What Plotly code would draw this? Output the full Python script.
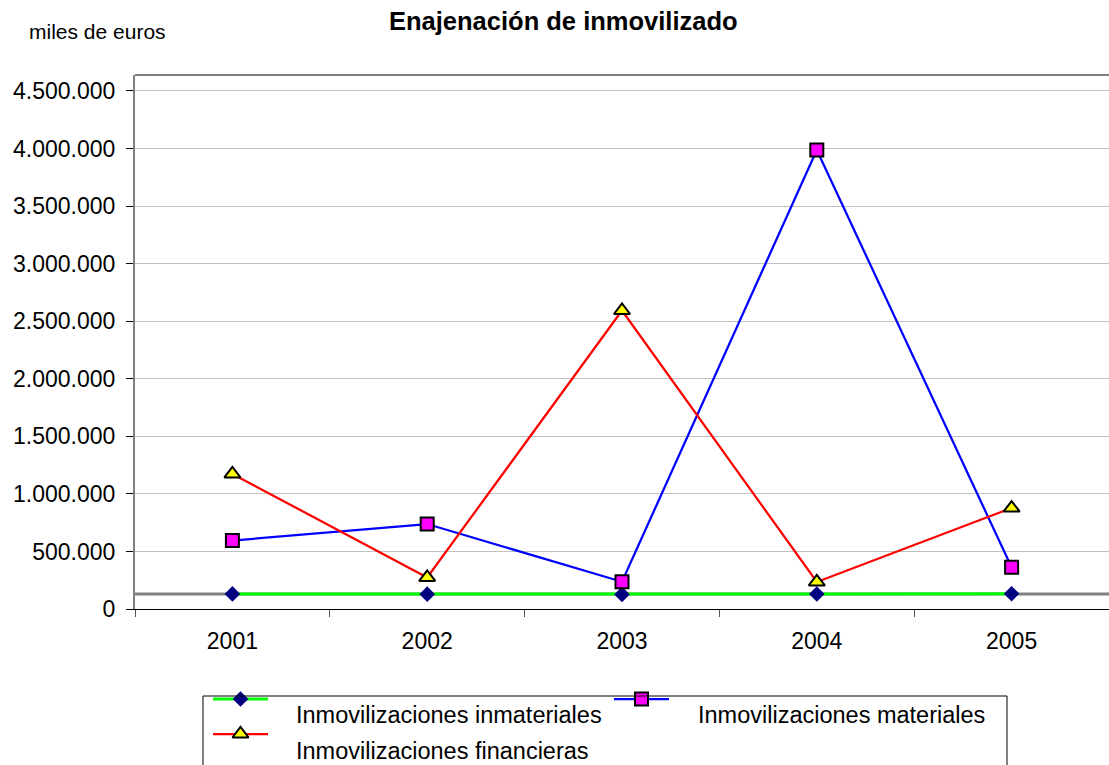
import plotly.graph_objects as go

# ---- data -------------------------------------------------------------
years = ["2001", "2002", "2003", "2004", "2005"]
inmateriales = [131000, 129000, 127000, 130000, 133000]
materiales = [595000, 738000, 237000, 3987000, 362000]
financieras = [1173000, 274000, 2593000, 235000, 877000]
series_names = [
    "Inmovilizaciones inmateriales",
    "Inmovilizaciones materiales",
    "Inmovilizaciones financieras",
]
y_ticks = [0, 500000, 1000000, 1500000, 2000000, 2500000, 3000000, 3500000, 4000000, 4500000]
title_text = "Enajenación de inmovilizado"
unit_text = "miles de euros"

# ---- page geometry (pixels) ------------------------------------------
W, H = 1109, 765
LEFT, TOP = 135, 75
PLOT_BOTTOM = 609            # pixel row of the value axis zero
PAPER_H = H - TOP
Y_TOP_VALUE = 4638800        # value reached at the top edge of the plot frame
FONT = "Liberation Sans, Arial, sans-serif"
TICK_SIZE = 23
LEGEND_SIZE = 23.5


def px_x(px):
    return (px - LEFT) / (W - LEFT)


def px_y(py):
    return (H - py) / PAPER_H


styles = [
    dict(line=dict(color="#00FF00", width=3),
         marker=dict(symbol="diamond", size=12, color="#000080", line=dict(width=0))),
    dict(line=dict(color="#0000FF", width=2.25),
         marker=dict(symbol="square", size=13, color="#FF00FF", line=dict(color="black", width=2))),
    dict(line=dict(color="#FF0000", width=2.25),
         marker=dict(symbol="triangle-up", size=14, color="#FFFF00", line=dict(color="black", width=2))),
]

fig = go.Figure()

for name, values, st in zip(series_names, [inmateriales, materiales, financieras], styles):
    fig.add_trace(go.Scatter(
        x=years, y=values, name=name, mode="lines+markers",
        line=st["line"], marker=st["marker"], showlegend=False,
        cliponaxis=False, xaxis="x", yaxis="y",
    ))

annotations = [
    dict(text=f"<b>{title_text}</b>", x=px_x(563.5), y=px_y(21), xref="paper", yref="paper",
         xanchor="center", yanchor="middle", showarrow=False,
         font=dict(family=FONT, size=25.5, color="black")),
    dict(text=unit_text, x=px_x(27), y=px_y(31), xref="paper", yref="paper",
         xanchor="left", yanchor="middle", showarrow=False,
         font=dict(family=FONT, size=21, color="black")),
]

# ---- hand-drawn legend on a pixel-scaled overlay axis ---------------
legend_slots = [(213, 699, 294, 715), (614, 699, 696, 715), (213, 734, 294, 751)]
SWATCH_W = 55
for (sx, sy, tx, ty), name, st in zip(legend_slots, series_names, styles):
    fig.add_trace(go.Scatter(
        x=[sx, sx + SWATCH_W], y=[sy, sy], mode="lines", line=st["line"],
        showlegend=False, hoverinfo="skip", xaxis="x2", yaxis="y2",
    ))
    fig.add_trace(go.Scatter(
        x=[sx + SWATCH_W / 2], y=[sy], mode="markers", marker=st["marker"],
        showlegend=False, hoverinfo="skip", xaxis="x2", yaxis="y2", cliponaxis=False,
    ))
    annotations.append(dict(
        x=tx, y=ty, xref="x2", yref="y2", text=name, showarrow=False,
        xanchor="left", yanchor="middle", font=dict(family=FONT, size=LEGEND_SIZE, color="black"),
    ))

shapes = [
    # legend frame (its lower edge falls below the page)
    dict(type="rect", xref="x2", yref="y2", x0=203, x1=1007, y0=696, y1=800,
         line=dict(color="black", width=1), fillcolor="rgba(0,0,0,0)"),
    # plot-area frame: top edge and floor
    dict(type="line", xref="paper", yref="paper", x0=0, x1=1, y0=1, y1=1,
         line=dict(color="#808080", width=2)),
    dict(type="line", xref="paper", yref="y", x0=0, x1=1, y0=130000, y1=130000,
         line=dict(color="#808080", width=3), layer="below"),
]

fig.update_layout(
    width=W, height=H,
    margin=dict(l=LEFT, r=0, t=TOP, b=0, pad=0, autoexpand=False),
    paper_bgcolor="white", plot_bgcolor="white",
    separators=",.",
    font=dict(family=FONT, size=TICK_SIZE, color="black"),
    showlegend=False,
    shapes=shapes,
    annotations=annotations,
    xaxis=dict(
        type="category", range=[-0.5, 4.5], domain=[0, 1], anchor="y",
        showline=True, linecolor="black", linewidth=1,
        ticks="outside", tickson="boundaries", ticklen=7, tickcolor="#555555",
        showgrid=False, zeroline=False, automargin=False,
        tickfont=dict(family=FONT, size=TICK_SIZE, color="black"),
        ticklabelstandoff=11,
    ),
    yaxis=dict(
        range=[0, Y_TOP_VALUE], domain=[px_y(PLOT_BOTTOM), 1], anchor="x",
        tickvals=y_ticks, tickformat=",d",
        showgrid=True, gridcolor="#C0C0C0", gridwidth=1,
        showline=True, linecolor="#808080", linewidth=2,
        ticks="outside", ticklen=7, tickcolor="black",
        zeroline=False, automargin=False,
        tickfont=dict(family=FONT, size=TICK_SIZE, color="black"),
        ticklabelstandoff=6,
    ),
    xaxis2=dict(range=[LEFT, W], domain=[0, 1], anchor="y2", visible=False,
                fixedrange=True, automargin=False),
    yaxis2=dict(range=[H, 680], domain=[0, px_y(680)], anchor="x2", visible=False,
                fixedrange=True, automargin=False),
)

fig.write_html("out.html")
